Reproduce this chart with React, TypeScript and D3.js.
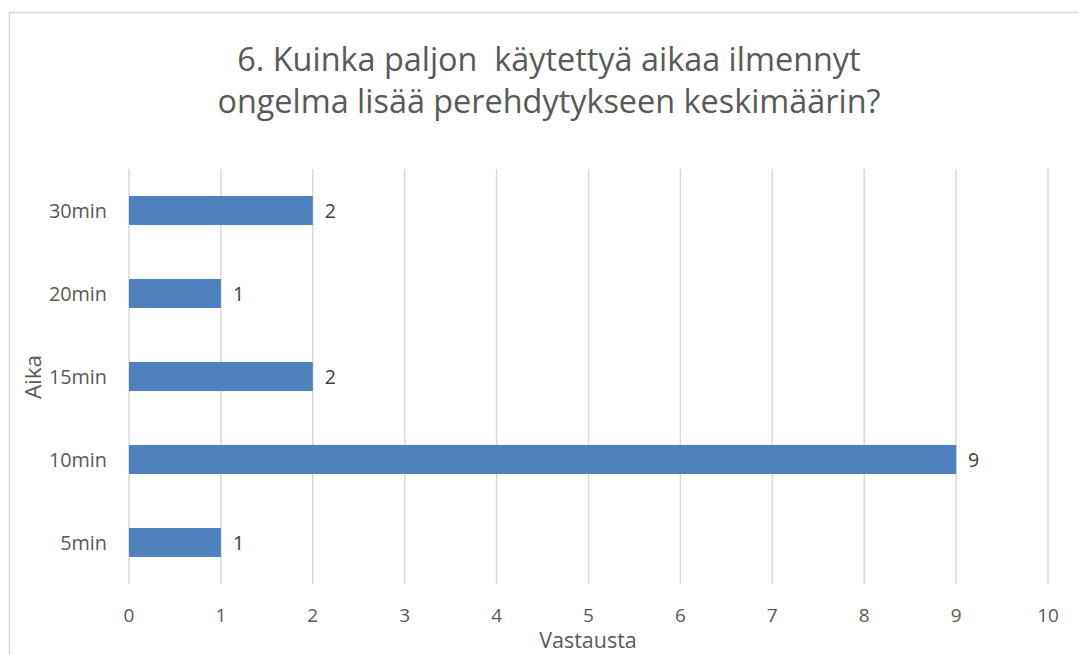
import React from "react";
import * as d3 from "d3";

const categories = ["30min", "20min", "15min", "10min", "5min"];
const values = [2, 1, 2, 9, 1];
const xTicks = [0, 1, 2, 3, 4, 5, 6, 7, 8, 9, 10];
const titleLines = ["6. Kuinka paljon  käytettyä aikaa ilmennyt", "ongelma lisää perehdytykseen keskimäärin?"];
const xTitle = "Vastausta";
const yTitle = "Aika";

const W = 1079;
const H = 655;
const FONT = "'Open Sans', 'Noto Sans', sans-serif";
const TEXT = "#595959";

export default function App() {
  const x = d3.scaleLinear().domain([0, 10]).range([129, 1048]);
  const y = d3.scaleBand().domain(categories).range([169, 584]).paddingInner(0.65).paddingOuter(0.325);
  return (
    <svg width={W} height={H} style={{ position: "absolute", left: 0, top: 0 }}>
      <rect x={0} y={0} width={W} height={H} fill="#fff" />
      <rect x={9.5} y={12.5} width={W + 20} height={H + 20} fill="none" stroke="#d9d9d9" strokeWidth={1.5} />
      {titleLines.map((t, i) => (
        <text key={i} x={549} y={71 + i * 42} textAnchor="middle" fontFamily={FONT} fontSize={32.4} fill={TEXT} style={{ whiteSpace: "pre" }}>
          {t}
        </text>
      ))}
      {xTicks.map((t) => (
        <g key={t}>
          <line x1={x(t)} x2={x(t)} y1={169} y2={584} stroke="#d9d9d9" strokeWidth={1.5} />
          <text x={x(t)} y={622} textAnchor="middle" fontFamily={FONT} fontSize={19} fill={TEXT}>{t}</text>
        </g>
      ))}
      {categories.map((c, i) => (
        <g key={c}>
          <rect x={x(0)} y={y(c)!} width={x(values[i]) - x(0)} height={y.bandwidth()} fill="#4f81bd" />
          <text x={107} y={y(c)! + y.bandwidth() / 2} dy="0.36em" textAnchor="end" fontFamily={FONT} fontSize={19.8} fill={TEXT}>{c}</text>
          <text x={x(values[i]) + 12} y={y(c)! + y.bandwidth() / 2} dy="0.36em" textAnchor="start" fontFamily={FONT} fontSize={19.5} fill="#404040">{values[i]}</text>
        </g>
      ))}
      <text x={588} y={648} textAnchor="middle" fontFamily={FONT} fontSize={21.5} fill={TEXT}>{xTitle}</text>
      <text transform="translate(41,377) rotate(-90)" textAnchor="middle" fontFamily={FONT} fontSize={22.5} fill={TEXT}>{yTitle}</text>
    </svg>
  );
}
